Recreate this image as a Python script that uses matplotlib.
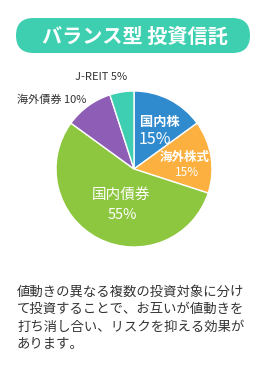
import matplotlib
matplotlib.use("Agg")
import matplotlib.pyplot as plt
from matplotlib.patches import FancyBboxPatch

plt.rcParams['font.family'] = ['Noto Sans CJK JP', 'DejaVu Sans']

# data
labels = ["国内株", "海外株式", "国内債券", "海外債券", "J-REIT"]
shares = [15, 15, 55, 10, 5]
colors = ["#2f8ace", "#fbb040", "#8dc63f", "#8e5db5", "#3ecfb2"]
title = "バランス型 投資信託"
body = ["値動きの異なる複数の投資対象に分け",
        "て投資することで、お互いが値動きを",
        "打ち消し合い、リスクを抑える効果が",
        "あります。"]

W, H = 260, 370
fig = plt.figure(figsize=(W / 100, H / 100), dpi=100)
fig.patch.set_facecolor("white")

# pie
cx, cy, r = 134, 169, 78
pax = fig.add_axes([(cx - 80) / W, (H - cy - 80) / H, 160 / W, 160 / H])
pax.pie(shares, colors=colors, startangle=90, counterclock=False, radius=r,
        wedgeprops=dict(edgecolor="white", linewidth=1))
pax.set_xlim(-80, 80)
pax.set_ylim(-80, 80)
pax.set_aspect("equal")
pax.axis("off")

# overlay axes in pixel coords (y down), drawn above the pie
ax = fig.add_axes([0, 0, 1, 1])
ax.set_xlim(0, W)
ax.set_ylim(H, 0)
ax.patch.set_alpha(0)
ax.axis("off")

pill = FancyBboxPatch((16, 18), 234, 35, boxstyle="round,pad=0,rounding_size=17.5",
                      fc="#3ecfb0", ec="none")
ax.add_patch(pill)
ax.text(135, 36, title, color="white", fontsize=14.5, fontweight="bold",
        ha="center", va="center")

# slice labels
ax.text(140, 122, labels[0], color="white", fontsize=9.5, fontweight="bold",
        ha="left", va="center")
ax.text(139, 139, f"{shares[0]}%", color="white", fontsize=11.5, ha="left", va="center")
ax.text(185, 157, labels[1], color="white", fontsize=9, fontweight="bold",
        ha="center", va="center")
ax.text(187, 172, f"{shares[1]}%", color="white", fontsize=8.5, ha="center", va="center")
ax.text(121, 195, labels[2], color="white", fontsize=10.5, ha="center", va="center")
ax.text(122, 215, f"{shares[2]}%", color="white", fontsize=10.5, ha="center", va="center")
ax.text(52, 100, f"{labels[3]} {shares[3]}%", color="#333333", fontsize=8,
        ha="center", va="center")
ax.text(101, 77, f"{labels[4]} {shares[4]}%", color="#333333", fontsize=8,
        ha="center", va="center")

# description
for i, line in enumerate(body):
    ax.text(17, 292 + i * 17.3, line, color="#333333", fontsize=9.6,
            ha="left", va="center")

fig.savefig("out.png", dpi=100)
